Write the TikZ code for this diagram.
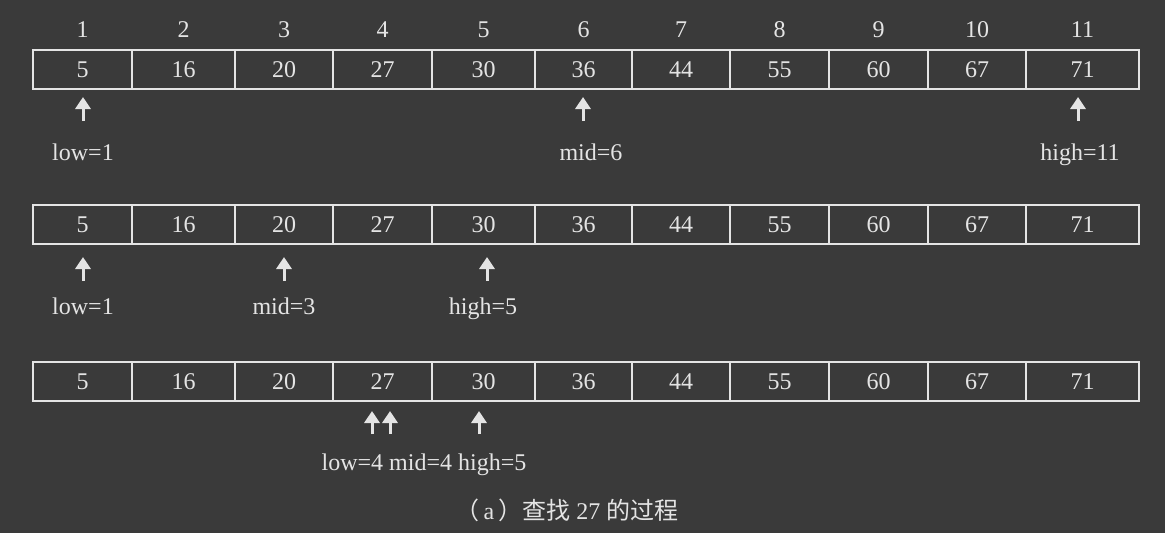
\documentclass[tikz,border=0pt]{standalone}
\usepackage{fontspec}
\setmainfont{Liberation Serif}
\newfontfamily\cjk{Noto Sans CJK SC}
\usetikzlibrary{arrows.meta}
\definecolor{bg}{HTML}{3A3A3A}
\definecolor{fg}{HTML}{E4E4E4}
\begin{document}
\begin{tikzpicture}[x=1pt,y=-1pt,
  every node/.style={text=fg,font=\fontsize{24}{28}\selectfont,inner sep=0pt},
  cell/.style={draw=fg,line width=1.7pt,minimum height=39pt,anchor=center},
  lab/.style={text height=16pt,text depth=5pt},
  ptr/.style={draw=fg,line width=3pt,-{Triangle[width=15pt,length=12pt]}},
]
\fill[bg] (0,0) rectangle (1165,533);
\useasboundingbox (0,0) rectangle (1165,533);
\foreach \a/\b/\v [count=\i] in {33/132/5,132/235/16,235/333/20,333/432/27,432/535/30,535/632/36,632/730/44,730/829/55,829/928/60,928/1026/67,1026/1139/71}{
  \node (idx\i) at ({(\a+\b)/2},30) {\i};
  \foreach \r/\y in {1/69.5,2/224.5,3/381.5}{
    \node[cell,minimum width={(\b-\a)*1pt}] (r\r c\i) at ({(\a+\b)/2},\y) {\v};
  }
}
% row 1 pointers
\coordinate (b11) at (83,121);  \coordinate (t11) at (83,97);
\coordinate (b12) at (583,121); \coordinate (t12) at (583,97);
\coordinate (b13) at (1078,121);\coordinate (t13) at (1078,97);
\draw[ptr] (b11) -- (t11);
\draw[ptr] (b12) -- (t12);
\draw[ptr] (b13) -- (t13);
\node[lab] (l11) at (83,154.5) {low=1};
\node[lab] (l12) at (591,154.5) {mid=6};
\node[lab] (l13) at (1080,154.5) {high=11};
% row 2 pointers
\coordinate (b21) at (83,281);  \coordinate (t21) at (83,257);
\coordinate (b22) at (284,281); \coordinate (t22) at (284,257);
\coordinate (b23) at (487,281); \coordinate (t23) at (487,257);
\draw[ptr] (b21) -- (t21);
\draw[ptr] (b22) -- (t22);
\draw[ptr] (b23) -- (t23);
\node[lab] (l21) at (83,308.5) {low=1};
\node[lab] (l22) at (284,308.5) {mid=3};
\node[lab] (l23) at (483,308.5) {high=5};
% row 3 pointers
\coordinate (b31) at (372,434); \coordinate (t31) at (372,411);
\coordinate (b32) at (390,434); \coordinate (t32) at (390,411);
\coordinate (b33) at (479,434); \coordinate (t33) at (479,411);
\draw[ptr] (b31) -- (t31);
\draw[ptr] (b32) -- (t32);
\draw[ptr] (b33) -- (t33);
\node[lab] (l3) at (424,465) {low=4 mid=4 high=5};
% caption
\node[lab] (cap) at (567,514) {{\cjk （}\,a\,{\cjk ）查找} 27 {\cjk 的过程}};
\end{tikzpicture}
\end{document}
